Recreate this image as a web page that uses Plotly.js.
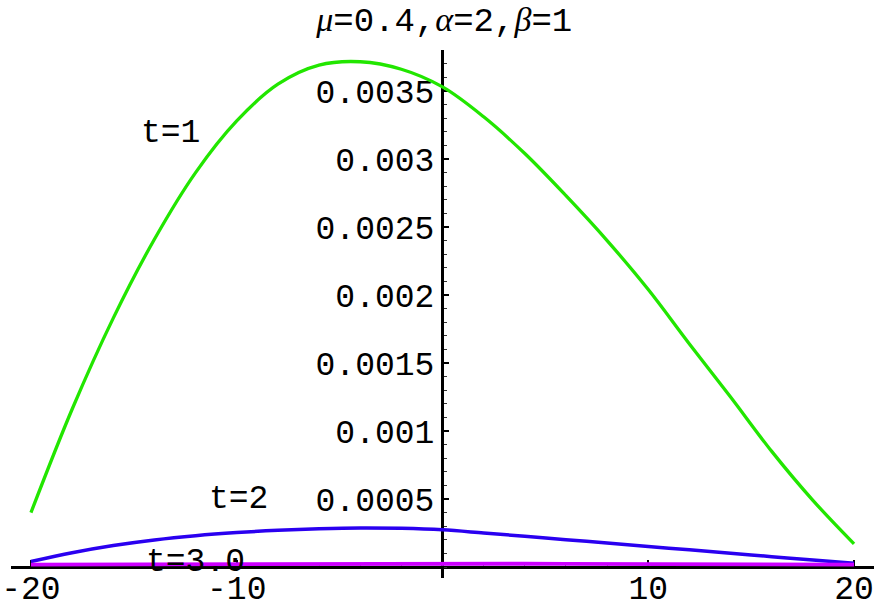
<!DOCTYPE html>
<html>
<head>
<meta charset="utf-8">
<script src="https://cdn.plot.ly/plotly-3.0.1.min.js"></script>
<style>html,body{margin:0;padding:0;background:#fff;}#chart{width:876px;height:607px;}</style>
</head>
<body>
<div id="chart"></div>
<script>
// x positions (shared by all curves)
const xs = [-20,-18,-16,-14,-12,-10,-8,-6,-4,-2,0,2,4,6,8,10,12,14,16,18,20];
// t = 1 (green)
const t1 = [0.00040,0.00116,0.00183,0.00241,0.00290,0.00328,0.00355,0.00369,0.003715,0.00366,0.00353,0.00331,0.00304,0.00273,0.00240,0.00204,0.00164,0.00125,0.00085,0.00049,0.00017];
// t = 2 (blue)
const t2 = [0.00004,0.000105,0.000158,0.000199,0.00023,0.000253,0.00027,0.000281,0.000287,0.000284,0.000273,0.00025,0.000226,0.000201,0.000176,0.000151,0.000126,0.000101,0.000076,0.000051,0.000027];
// t = 3.0 (magenta)
const t3 = [0.000018,0.000019,0.000020,0.000021,0.000022,0.000023,0.000024,0.000025,0.000025,0.000025,0.000025,0.000024,0.000024,0.000023,0.000022,0.000021,0.000020,0.000019,0.000019,0.000018,0.000018];

const xTickVals = [-20,-10,10,20];
const xTickText = ['-20','-10','10','20'];
const yTickVals = [0.0005,0.001,0.0015,0.002,0.0025,0.003,0.0035];
const yTickText = ['0.0005','0.001','0.0015','0.002','0.0025','0.003','0.0035'];

const labels = [
  {text:'t=1', x:-13.24, y:0.00319},
  {text:'t=2', x:-9.93, y:0.000493},
  {text:'t=3.0', x:-12.0, y:0.00003}
];

const FONT = 'Liberation Mono, Courier New, monospace';
const G = 'font-family:Liberation Serif;font-style:italic';

const traces = [
  {x:xs, y:t1, mode:'lines', line:{color:'#22e600', width:3.3, shape:'spline', smoothing:1}, hoverinfo:'skip'},
  {x:xs, y:t2, mode:'lines', line:{color:'#2a00f0', width:3.5, shape:'spline', smoothing:1}, hoverinfo:'skip'},
  {x:xs, y:t3, mode:'lines', line:{color:'#cc00ff', width:3.8, shape:'linear'}, hoverinfo:'skip'}
];

const layout = {
  width:876, height:607,
  margin:{l:11, r:2, t:50, b:29, pad:0},
  paper_bgcolor:'#fff', plot_bgcolor:'#fff',
  showlegend:false,
  font:{family:FONT, size:33, color:'#000'},
  title:{
    text:'<span style="'+G+'">μ</span>=0.4,<span style="'+G+'">α</span>=2,<span style="'+G+'">β</span>=1',
    font:{family:FONT, size:34, color:'#000'},
    x:0.502, xanchor:'center', xref:'paper',
    y:1-19/607, yanchor:'middle', yref:'container'
  },
  xaxis:{
    range:[-20.97,20.97],
    anchor:'free', position:11/528,
    layer:'below traces',
    showline:true, linecolor:'#000', linewidth:2.5,
    showgrid:false, zeroline:false,
    tickmode:'array', tickvals:xTickVals, ticktext:xTickText,
    ticks:'inside', ticklen:6, tickwidth:2, tickcolor:'#000',
    ticklabelstandoff:-9,
    tickfont:{family:FONT, size:33, color:'#000'},
    minor:{tickmode:'linear', tick0:0, dtick:2, ticks:'inside', ticklen:3, tickwidth:1, tickcolor:'#555'}
  },
  yaxis:{
    range:[-0.0000809, 0.0038015],
    anchor:'free', position:431/863,
    layer:'below traces',
    showline:true, linecolor:'#000', linewidth:3,
    showgrid:false, zeroline:false,
    tickmode:'array', tickvals:yTickVals, ticktext:yTickText,
    ticks:'inside', ticklen:5, tickwidth:2, tickcolor:'#000',
    tickfont:{family:FONT, size:33, color:'#000'},
    minor:{tickmode:'linear', tick0:0, dtick:0.0001, ticks:'inside', ticklen:3, tickwidth:1, tickcolor:'#333'}
  },
  annotations: labels.map(l => ({
    text:l.text, x:l.x, y:l.y, xref:'x', yref:'y', showarrow:false,
    xanchor:'center', yanchor:'middle',
    font:{family:FONT, size:33, color:'#000'}
  }))
};

Plotly.newPlot('chart', traces, layout, {displayModeBar:false, staticPlot:true});
</script>
</body>
</html>
